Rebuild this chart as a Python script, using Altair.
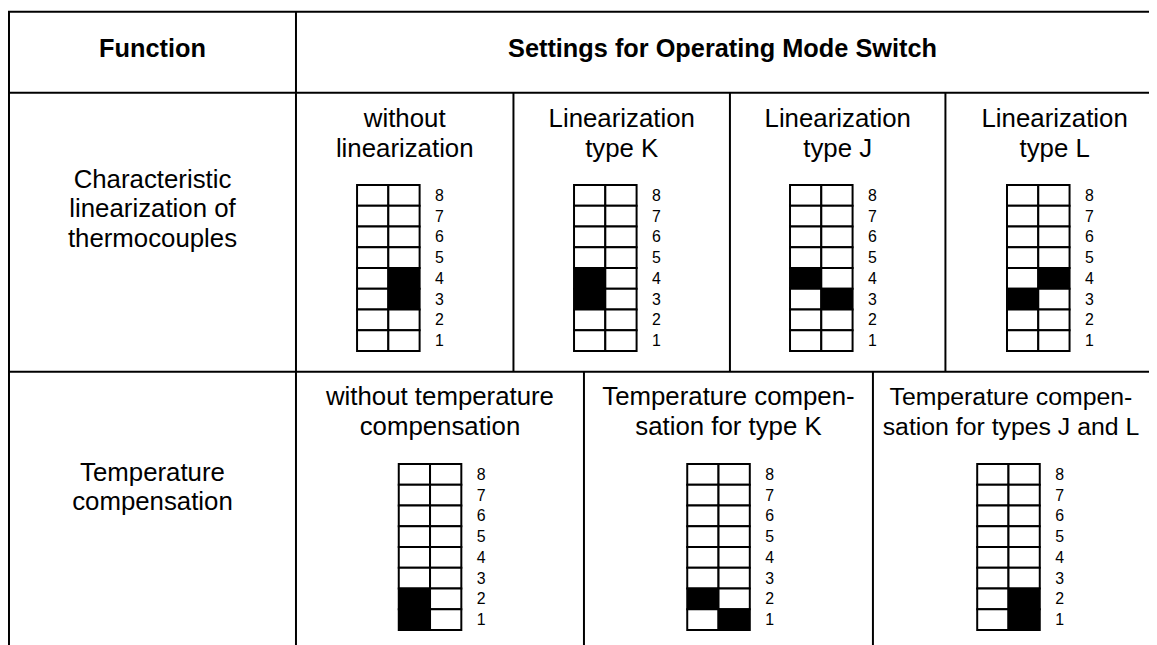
import altair as alt
import pandas as pd

# ---------------- data ----------------
header_function = "Function"
header_settings = "Settings for Operating Mode Switch"
functions = ["Characteristic\nlinearization of\nthermocouples", "Temperature\ncompensation"]
lin_options = ["without\nlinearization", "Linearization\ntype K", "Linearization\ntype J", "Linearization\ntype L"]
comp_options = ["without temperature\ncompensation", "Temperature compen-\nsation for type K",
                "Temperature compen-\nsation for types J and L"]
switch_numbers = [8, 7, 6, 5, 4, 3, 2, 1]
# set (black) switch cells: (switch number, side 0 = left / 1 = right)
lin_set = [
    [(4, 1), (3, 1)],
    [(4, 0), (3, 0)],
    [(4, 0), (3, 1)],
    [(4, 1), (3, 0)],
]
comp_set = [
    [(2, 0), (1, 0)],
    [(2, 0), (1, 1)],
    [(2, 1), (1, 1)],
]

# ---------------- layout (page pixels) ----------------
PAGE_W, PAGE_H, M = 1157, 645, 8
X_L, X_F, X_R = 9, 298, 1172
Y_T, Y_H, Y_1, Y_B = 9.5, 91, 372, 700
lin_div = [X_F, 517, 735, 952, X_R]
comp_div = [X_F, 588, 879, X_R]
CELL_W, ROW_H = 31.5, 20.9
grid_top = [184, 465]
grid_off = [-48, -41.5]
text_base = [126, 406]
func_base = [187, 482]
LH = 29.5
VISIBLE_R = 1147  # keep long texts inside the visible page

lines = []
for y in (Y_T, Y_H, Y_1):
    lines.append(dict(x=X_L - 1, x2=X_R, y=y, y2=y))
for x in (X_L, X_F):
    lines.append(dict(x=x, x2=x, y=Y_T, y2=Y_B))
for x in lin_div[1:-1]:
    lines.append(dict(x=x, x2=x, y=Y_H, y2=Y_1))
for x in comp_div[1:-1]:
    lines.append(dict(x=x, x2=x, y=Y_1, y2=Y_B))
lines = pd.DataFrame(lines)

rects, digits, texts = [], [], []
for r, (divs, opts, sets) in enumerate([(lin_div, lin_options, lin_set), (comp_div, comp_options, comp_set)]):
    for i, (opt, st) in enumerate(zip(opts, sets)):
        cx = (divs[i] + divs[i + 1]) / 2
        gl = cx + grid_off[r]
        fs = 26
        if divs[i + 1] > PAGE_W and len(max(opt.split("\n"), key=len)) > 20:
            fs = 25
            cx = 1018
        texts.append(dict(x=cx, y=text_base[r], text=opt, fs=fs))
        for k, n in enumerate(switch_numbers):
            y0 = grid_top[r] + k * ROW_H
            for side in (0, 1):
                rects.append(dict(x=gl + side * CELL_W, x2=gl + (side + 1) * CELL_W, y=y0, y2=y0 + ROW_H,
                                  on="on" if (n, side) in st else "off"))
            digits.append(dict(x=gl + 2 * CELL_W + 15.5, y=y0 + ROW_H / 2 + 0.5, text=str(n)))
for r, f in enumerate(functions):
    texts.append(dict(x=(X_L + X_F) / 2, y=func_base[r], text=f, fs=26))
rects, digits, texts = pd.DataFrame(rects), pd.DataFrame(digits), pd.DataFrame(texts)
heads = pd.DataFrame([dict(x=(X_L + X_F) / 2, y=55, text=header_function),
                      dict(x=(X_F + PAGE_W) / 2, y=55, text=header_settings)])

xs = alt.Scale(domain=[M, PAGE_W], nice=False, zero=False)
ys = alt.Scale(domain=[M, PAGE_H], nice=False, zero=False, reverse=True)
X = alt.X("x:Q", scale=xs, axis=None)
Y = alt.Y("y:Q", scale=ys, axis=None)
FONT = "Liberation Sans"

rect_layer = alt.Chart(rects).mark_rect(stroke="black", strokeWidth=2).encode(
    x=X, x2="x2:Q", y=Y, y2="y2:Q",
    fill=alt.Fill("on:N", scale=alt.Scale(domain=["off", "on"], range=["white", "black"]), legend=None))
line_layer = alt.Chart(lines).mark_rule(color="black", strokeWidth=2).encode(x=X, x2="x2:Q", y=Y, y2="y2:Q")
text_layer = alt.Chart(texts).mark_text(font=FONT, lineBreak="\n", lineHeight=LH,
                                        align="center", baseline="alphabetic", color="black").encode(
    x=X, y=Y, text="text:N", size=alt.Size("fs:Q", scale=None, legend=None))
head_layer = alt.Chart(heads).mark_text(font=FONT, fontSize=25.5, fontWeight="bold",
                                        align="center", baseline="alphabetic", color="black").encode(
    x=X, y=Y, text="text:N")
digit_layer = alt.Chart(digits).mark_text(font=FONT, fontSize=16, align="left", baseline="middle",
                                          color="black").encode(x=X, y=Y, text="text:N")

chart = alt.layer(rect_layer, line_layer, text_layer, head_layer, digit_layer).properties(
    width=PAGE_W - M, height=PAGE_H - M, padding=0, autosize=alt.AutoSizeParams(type="none"),
    background="white"
).configure_view(strokeWidth=0)

chart.save("out.html", embed_options={"renderer": "svg", "actions": False})
